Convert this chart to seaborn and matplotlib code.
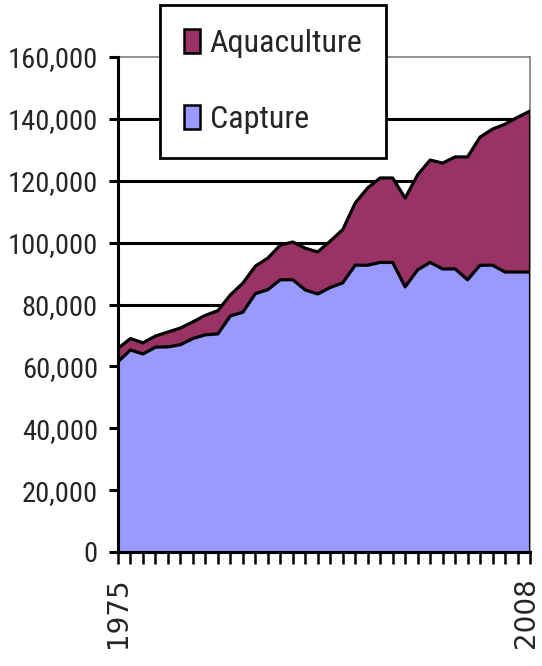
import numpy as np
import pandas as pd
import matplotlib
matplotlib.use("Agg")
import matplotlib.pyplot as plt
import seaborn as sns
from matplotlib.patches import Patch

years = list(range(1975, 2009))
capture = [61500, 65300, 64000, 66200, 66300, 67000, 69000, 70200, 70500, 76300,
           77500, 83500, 84800, 88000, 88000, 84700, 83400, 85500, 87000, 92700,
           92700, 93600, 93600, 85700, 91200, 93600, 91500, 91500, 88000, 92700,
           92700, 90500, 90500, 90500]
aquaculture = [4300, 3700, 3600, 3600, 4800, 5400, 5400, 6300, 7500, 6800,
               9400, 8900, 10200, 11200, 12200, 13500, 13600, 15000, 17200, 20100,
               25000, 27300, 27300, 28700, 30700, 33100, 34200, 36200, 39700, 41400,
               44000, 47800, 50000, 52000]
series_names = ["Aquaculture", "Capture"]
y_ticks = [0, 20000, 40000, 60000, 80000, 100000, 120000, 140000, 160000]
first_label, last_label = "1975", "2008"

df = pd.DataFrame({"year": years, "Capture": capture, "Aquaculture": aquaculture})
df["Total"] = df["Capture"] + df["Aquaculture"]

sns.set_style("white")
plt.rcParams["font.family"] = ["Roboto Condensed", "Liberation Sans", "DejaVu Sans"]

col_cap = "#9999FF"
col_aq = "#993366"

fig = plt.figure(figsize=(5.42, 6.66), dpi=100)
ax = fig.add_axes([118 / 542, 1 - 552 / 666, 412 / 542, 495 / 666])

ax.fill_between(df["year"], 0, df["Capture"], color=col_cap, lw=0, zorder=2)
ax.fill_between(df["year"], df["Capture"], df["Total"], color=col_aq, lw=0, zorder=2)
sns.lineplot(data=df, x="year", y="Capture", color="black", lw=2.3, ax=ax, zorder=3)
sns.lineplot(data=df, x="year", y="Total", color="black", lw=2.3, ax=ax, zorder=3)
ax.vlines(df["year"].iloc[-1], 0, df["Total"].iloc[-1], color="black", lw=2.3, zorder=3)

ax.set_xlim(years[0], years[-1])
ax.set_ylim(0, 160000)
ax.set_xlabel("")
ax.set_ylabel("")

ax.set_yticks(y_ticks)
ax.set_yticklabels([f"{v:,}" for v in y_ticks], fontsize=20.5)
ax.set_xticks(years)
ax.set_xticklabels([first_label] + [""] * (len(years) - 1), rotation=90,
                   fontsize=20, family="DejaVu Sans")
ax.annotate(last_label, xy=(years[-1], 0), xycoords=("data", "axes fraction"),
            xytext=(-3, -(8.5 + 10)), textcoords="offset points",
            rotation=90, ha="center", va="top", fontsize=20, family="DejaVu Sans",
            annotation_clip=False)

ax.tick_params(axis="y", direction="out", length=6.5, width=2.2, color="black", pad=8, left=True)
ax.tick_params(axis="x", direction="out", length=8.5, width=1.8, color="black", pad=10, bottom=True)

ax.set_axisbelow(True)
ax.yaxis.grid(True, color="black", lw=2.2)
ax.xaxis.grid(False)
ax.get_ygridlines()[-1].set_visible(False)
ax.get_ygridlines()[0].set_visible(False)

for s in ["left", "bottom"]:
    ax.spines[s].set_color("black")
    ax.spines[s].set_linewidth(2.2)
    ax.spines[s].set_zorder(4)
for s in ["top", "right"]:
    ax.spines[s].set_color("#888888")
    ax.spines[s].set_linewidth(1.3)

handles = [Patch(facecolor=col_aq, edgecolor="black", lw=1.8),
           Patch(facecolor=col_cap, edgecolor="black", lw=1.8)]
leg = ax.legend(handles, series_names, loc="upper left",
                bbox_to_anchor=((160 - 118) / 412, (552 - 5) / 495),
                borderaxespad=0, fontsize=23, frameon=True, fancybox=False,
                handlelength=0.5, handleheight=0.8, handletextpad=0.3,
                labelspacing=1.45, borderpad=0.75)
leg.get_frame().set_edgecolor("black")
leg.get_frame().set_linewidth(2.0)
leg.get_frame().set_facecolor("white")
leg.get_frame().set_alpha(1)
leg.set_zorder(10)

fig.savefig("out.png", dpi=100)
